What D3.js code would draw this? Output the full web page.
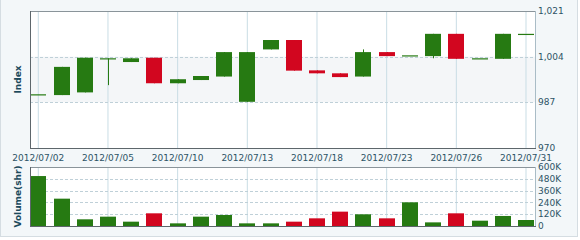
<!DOCTYPE html>
<html>
<head>
<meta charset="utf-8">
<script src="https://cdn.jsdelivr.net/npm/d3@7/dist/d3.min.js"></script>
<style>
  body { margin: 0; background: #ffffff; }
  text { font-family: "DejaVu Sans", Verdana, sans-serif; }
</style>
</head>
<body>
<svg id="chart"></svg>
<script>
let width = 580;
let height = 240;

// daily candles, July 2012
let dates = ["2012/07/02", "2012/07/03", "2012/07/04", "2012/07/05", "2012/07/06", "2012/07/09",
  "2012/07/10", "2012/07/11", "2012/07/12", "2012/07/13", "2012/07/16", "2012/07/17",
  "2012/07/18", "2012/07/19", "2012/07/20", "2012/07/23", "2012/07/24", "2012/07/25",
  "2012/07/26", "2012/07/27", "2012/07/30", "2012/07/31"];
let openVals = [990.0, 989.7, 990.7, 1003.4, 1002.0, 1003.6, 994.1, 995.3, 996.6, 987.2, 1006.7, 1010.2,
  998.9, 997.8, 996.6, 1005.7, 1004.5, 1004.2, 1012.5, 1003.4, 1003.2, 1012.5];
let highVals = [990.0, 1000.2, 1003.6, 1003.4, 1003.4, 1003.6, 995.6, 996.8, 1005.7, 1005.7, 1010.2, 1010.2,
  998.9, 997.8, 1006.7, 1005.7, 1004.5, 1012.5, 1012.5, 1003.4, 1012.5, 1012.5];
let lowVals = [990.0, 989.7, 990.7, 993.4, 1002.0, 994.1, 994.1, 995.3, 996.6, 987.2, 1006.7, 998.8,
  997.8, 996.4, 996.6, 1004.2, 1004.5, 1003.4, 1003.2, 1003.4, 1003.2, 1012.5];
let closeVals = [990.0, 1000.2, 1003.6, 1003.4, 1003.4, 994.1, 995.6, 996.8, 1005.7, 1005.7, 1010.2, 998.8,
  997.8, 996.4, 1005.7, 1004.2, 1004.5, 1012.5, 1003.2, 1003.4, 1012.5, 1012.5];
// volume in thousands of shares
let volumes = [508, 278, 68, 95, 44, 129, 27, 95, 112, 27, 27, 44, 78, 146, 119, 78, 241, 37, 129, 54, 102, 61];

let tickDates = ["2012/07/02", "2012/07/05", "2012/07/10", "2012/07/13", "2012/07/18", "2012/07/23", "2012/07/26", "2012/07/31"];
let priceTicks = [970, 987, 1004, 1021];
let volumeTicks = [0, 120, 240, 360, 480, 600];

let green = "#267a12";
let red = "#d2061f";
let textColor = "#2d5466";

let pl = 30, pr = 535;
let mainTop = 11, mainBottom = 148;
let volTop = 167, volBottom = 226;

let svg = d3.select("#chart").attr("width", width).attr("height", height);

// page background
svg.append("rect").attr("x", 0).attr("y", 0).attr("width", width).attr("height", height).attr("fill", "#ffffff");
svg.append("rect").attr("x", 0.5).attr("y", -1).attr("width", 577).attr("height", 237.5)
  .attr("fill", "#f3f7f9").attr("stroke", "#d5dde2");

let x = d3.scalePoint().domain(dates).range([pl + 8.3, pr - 9]);
let y = d3.scaleLinear().domain([970, 1021]).range([mainBottom, mainTop]);
let yv = d3.scaleLinear().domain([0, 600]).range([volBottom, volTop]);
let bodyW = 16;

let defs = svg.append("defs");
defs.append("clipPath").attr("id", "clipMain").append("rect")
  .attr("x", pl).attr("y", mainTop).attr("width", pr - pl).attr("height", mainBottom - mainTop);
defs.append("clipPath").attr("id", "clipVol").append("rect")
  .attr("x", pl).attr("y", volTop).attr("width", pr - pl).attr("height", volBottom - volTop);

let candles = dates.map(function (d, i) {
  return { date: d, open: openVals[i], high: highVals[i], low: lowVals[i], close: closeVals[i], vol: volumes[i] };
});
function colorOf(d) { return d.close >= d.open ? green : red; }

// ---- price panel ----
svg.append("rect").attr("x", pl).attr("y", mainTop).attr("width", pr - pl).attr("height", mainBottom - mainTop)
  .attr("fill", "#ffffff");
svg.append("rect").attr("x", pl).attr("y", y(1004)).attr("width", pr - pl).attr("height", y(987) - y(1004))
  .attr("fill", "#f4f6f8");

svg.append("g").selectAll("line").data(tickDates).enter().append("line")
  .attr("x1", d => x(d)).attr("x2", d => x(d)).attr("y1", mainTop).attr("y2", mainBottom)
  .attr("stroke", "#c9dde5").attr("stroke-width", 1);
svg.append("g").selectAll("line").data(priceTicks.slice(1, -1)).enter().append("line")
  .attr("x1", pl).attr("x2", pr).attr("y1", d => Math.round(y(d)) + 0.5).attr("y2", d => Math.round(y(d)) + 0.5)
  .attr("stroke", "#bfd0d8").attr("stroke-dasharray", "3,2");

let cg = svg.append("g").attr("clip-path", "url(#clipMain)");
cg.selectAll("line.wick").data(candles).enter().append("line").attr("class", "wick")
  .attr("x1", d => Math.round(x(d.date)) + 0.5).attr("x2", d => Math.round(x(d.date)) + 0.5)
  .attr("y1", d => y(d.high)).attr("y2", d => y(d.low))
  .attr("stroke", colorOf);
cg.selectAll("rect.body").data(candles).enter().append("rect").attr("class", "body")
  .attr("x", d => Math.round(x(d.date)) - bodyW / 2)
  .attr("width", bodyW)
  .attr("y", d => y(Math.max(d.open, d.close)))
  .attr("height", d => Math.max(1.2, Math.abs(y(d.open) - y(d.close))))
  .attr("fill", colorOf);

// borders
svg.append("line").attr("x1", pl).attr("x2", pr).attr("y1", mainTop + 0.5).attr("y2", mainTop + 0.5).attr("stroke", "#8a949a");
svg.append("line").attr("x1", pr + 0.5).attr("x2", pr + 0.5).attr("y1", mainTop).attr("y2", mainBottom).attr("stroke", "#a9bcc6");
svg.append("line").attr("x1", pl + 0.5).attr("x2", pl + 0.5).attr("y1", mainTop).attr("y2", mainBottom).attr("stroke", "#5d666b");
svg.append("line").attr("x1", pl).attr("x2", pr + 1).attr("y1", mainBottom + 0.5).attr("y2", mainBottom + 0.5).attr("stroke", "#5d666b");

svg.append("g").selectAll("text").data(priceTicks).enter().append("text")
  .attr("x", pr + 3).attr("y", d => y(d)).attr("dy", "0.35em")
  .attr("font-size", "9px").attr("fill", textColor)
  .text(d => d3.format(",")(d));

svg.append("g").selectAll("text").data(tickDates).enter().append("text")
  .attr("x", d => x(d)).attr("y", 161).attr("text-anchor", "middle")
  .attr("font-size", "9px").attr("fill", textColor)
  .text(d => d);

svg.append("text").attr("transform", "translate(21," + ((mainTop + mainBottom) / 2) + ") rotate(-90)")
  .attr("text-anchor", "middle").attr("font-size", "9px").attr("font-weight", "bold").attr("fill", "#1c4a5c")
  .text("Index");

// ---- volume panel ----
svg.append("rect").attr("x", pl).attr("y", volTop).attr("width", pr - pl).attr("height", volBottom - volTop)
  .attr("fill", "#ffffff");
svg.append("g").selectAll("line").data(tickDates).enter().append("line")
  .attr("x1", d => x(d)).attr("x2", d => x(d)).attr("y1", volTop).attr("y2", volBottom)
  .attr("stroke", "#c9dde5");
svg.append("g").selectAll("line").data(volumeTicks.slice(1, -1)).enter().append("line")
  .attr("x1", pl).attr("x2", pr).attr("y1", d => Math.round(yv(d)) + 0.5).attr("y2", d => Math.round(yv(d)) + 0.5)
  .attr("stroke", "#bfd0d8").attr("stroke-dasharray", "3,2");

svg.append("g").attr("clip-path", "url(#clipVol)")
  .selectAll("rect").data(candles).enter().append("rect")
  .attr("x", d => Math.round(x(d.date)) - bodyW / 2)
  .attr("width", bodyW)
  .attr("y", d => yv(d.vol))
  .attr("height", d => yv(0) - yv(d.vol))
  .attr("fill", colorOf);

svg.append("line").attr("x1", pl).attr("x2", pr).attr("y1", volTop + 0.5).attr("y2", volTop + 0.5).attr("stroke", "#8a949a");
svg.append("line").attr("x1", pr + 0.5).attr("x2", pr + 0.5).attr("y1", volTop).attr("y2", volBottom).attr("stroke", "#a9bcc6");
svg.append("line").attr("x1", pl + 0.5).attr("x2", pl + 0.5).attr("y1", volTop).attr("y2", volBottom).attr("stroke", "#5d666b");
svg.append("line").attr("x1", pl).attr("x2", pr + 1).attr("y1", volBottom + 0.5).attr("y2", volBottom + 0.5).attr("stroke", "#5d666b");

svg.append("g").selectAll("text").data(volumeTicks).enter().append("text")
  .attr("x", pr + 3).attr("y", d => yv(d)).attr("dy", "0.35em")
  .attr("font-size", "9px").attr("fill", textColor)
  .text(d => d === 0 ? "0" : d + "K");

svg.append("text").attr("transform", "translate(21," + ((volTop + volBottom) / 2) + ") rotate(-90)")
  .attr("text-anchor", "middle").attr("font-size", "9px").attr("font-weight", "bold").attr("fill", "#1c4a5c")
  .text("Volume(shr)");
</script>
</body>
</html>
